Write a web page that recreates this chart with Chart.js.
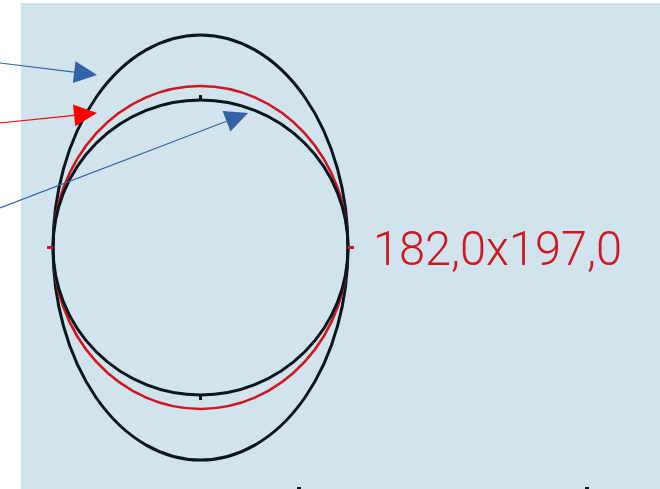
<!DOCTYPE html>
<html>
<head>
<meta charset="utf-8">
<script src="https://cdn.jsdelivr.net/npm/chart.js@4"></script>
<style>
  html, body { margin: 0; padding: 0; background: #fff; }
  canvas { display: block; }
</style>
</head>
<body>
<canvas id="shapeChart" width="660" height="489"></canvas>
<script>
// measured shapes (values in picture units)
const ellipseNames = ['outer', 'fit', 'inner'];
const ellipseCx = [200.5, 200.5, 200.5];
const ellipseCy = [247.5, 247.5, 247.5];
const ellipseRx = [147.5, 147.5, 147.5];
const ellipseRy = [212.5, 161.5, 147.5];

const arrowFromX = [0, 0, 0];
const arrowFromY = [63, 123, 208];
const arrowToX = [97, 97, 248];
const arrowToY = [75, 113, 113];

const sizeText = '182,0x197,0';

const BLACK = '#06171e';
const RED = '#d0161f';
const BLUE = '#3462a6';
const ellipseColors = [BLACK, RED, BLACK];
const arrowColors = [BLUE, '#ff0000', BLUE];

const shapesPlugin = {
  id: 'shapes',
  beforeDraw(chart) {
    const ctx = chart.ctx;
    const x = chart.scales.x, y = chart.scales.y;
    ctx.save();
    ctx.fillStyle = '#ffffff';
    ctx.fillRect(0, 0, chart.width, chart.height);
    ctx.fillStyle = '#d1e4ed';
    ctx.fillRect(x.getPixelForValue(21), y.getPixelForValue(3), chart.width, chart.height);
    ctx.restore();
  },
  afterDatasetsDraw(chart) {
    const ctx = chart.ctx;
    const x = chart.scales.x, y = chart.scales.y;
    ctx.save();

    // ellipses
    ellipseNames.forEach((name, i) => {
      const cx = x.getPixelForValue(ellipseCx[i]);
      const cy = y.getPixelForValue(ellipseCy[i]);
      const rx = x.getPixelForValue(ellipseCx[i] + ellipseRx[i]) - cx;
      const ry = y.getPixelForValue(ellipseCy[i] + ellipseRy[i]) - cy;
      ctx.beginPath();
      ctx.ellipse(cx, cy, Math.abs(rx), Math.abs(ry), 0, 0, Math.PI * 2);
      ctx.strokeStyle = ellipseColors[i];
      ctx.lineWidth = name === 'fit' ? 2.6 : 3;
      ctx.stroke();
    });

    // tick marks on the fitted ellipse (horizontal) and inner one (vertical)
    const f = 1, n = 2;
    const fl = x.getPixelForValue(ellipseCx[f] - ellipseRx[f]);
    const fr = x.getPixelForValue(ellipseCx[f] + ellipseRx[f]);
    const fy = y.getPixelForValue(ellipseCy[f]);
    ctx.fillStyle = RED;
    ctx.fillRect(fl - 6, fy - 1.5, 6, 3);
    ctx.fillRect(fr, fy - 1.5, 6, 3);
    const nx = x.getPixelForValue(ellipseCx[n]);
    const nt = y.getPixelForValue(ellipseCy[n] - ellipseRy[n]);
    const nb = y.getPixelForValue(ellipseCy[n] + ellipseRy[n]);
    ctx.fillStyle = BLACK;
    ctx.fillRect(nx - 1.5, nt - 5, 3, 5);
    ctx.fillRect(nx - 1.5, nb, 3, 5);
    ctx.fillRect(297, 487, 4, 2);
    ctx.fillRect(585, 487, 4, 2);

    // arrows
    arrowFromX.forEach((_, i) => {
      const x0 = x.getPixelForValue(arrowFromX[i]);
      const y0 = y.getPixelForValue(arrowFromY[i]);
      const x1 = x.getPixelForValue(arrowToX[i]);
      const y1 = y.getPixelForValue(arrowToY[i]);
      const a = Math.atan2(y1 - y0, x1 - x0);
      const len = 23, hw = 11;
      const bx = x1 - len * Math.cos(a), by = y1 - len * Math.sin(a);
      ctx.strokeStyle = arrowColors[i];
      ctx.lineWidth = 1.2;
      ctx.beginPath();
      ctx.moveTo(x0, y0);
      ctx.lineTo(bx, by);
      ctx.stroke();
      ctx.fillStyle = arrowColors[i];
      ctx.beginPath();
      ctx.moveTo(x1, y1);
      ctx.lineTo(bx + hw * Math.sin(a), by - hw * Math.cos(a));
      ctx.lineTo(bx - hw * Math.sin(a), by + hw * Math.cos(a));
      ctx.closePath();
      ctx.fill();
    });

    // size label
    ctx.fillStyle = RED;
    ctx.font = '300 49px Roboto, "Liberation Sans", sans-serif';
    ctx.textBaseline = 'alphabetic';
    ctx.textAlign = 'left';
    ctx.fillText(sizeText, x.getPixelForValue(373), y.getPixelForValue(265), 249);
    ctx.restore();
  }
};

new Chart(document.getElementById('shapeChart'), {
  type: 'scatter',
  data: {
    datasets: [{
      label: 'centres',
      data: ellipseNames.map((_, i) => ({ x: ellipseCx[i], y: ellipseCy[i] })),
      pointRadius: 0
    }]
  },
  options: {
    responsive: false,
    animation: false,
    layout: { padding: 0 },
    scales: {
      x: { type: 'linear', min: 0, max: 660, display: false },
      y: { type: 'linear', min: 0, max: 489, reverse: true, display: false }
    },
    plugins: {
      legend: { display: false },
      tooltip: { enabled: false }
    }
  },
  plugins: [shapesPlugin]
});
</script>
</body>
</html>
